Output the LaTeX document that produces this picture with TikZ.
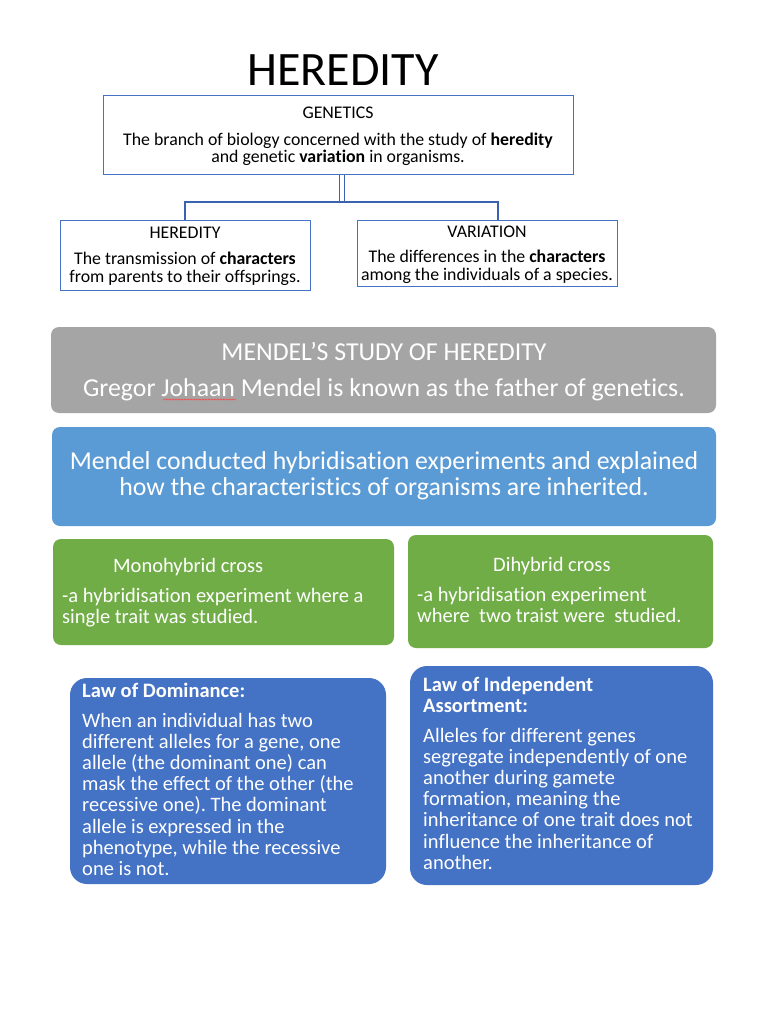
\documentclass[tikz,border=0pt]{standalone}
\usepackage{fontspec}
\setmainfont{Carlito}[Ligatures=NoCommon]
\usetikzlibrary{decorations.pathmorphing}

\definecolor{boxline}{HTML}{4472C4}
\definecolor{linkline}{HTML}{3B62AE}
\definecolor{greypanel}{HTML}{A5A5A5}
\definecolor{skypanel}{HTML}{5B9BD5}
\definecolor{greenpanel}{HTML}{70AD47}
\definecolor{lawpanel}{HTML}{4472C4}

\begin{document}
\frenchspacing
\begin{tikzpicture}[
    x=1pt, y=-1pt,
    plainbox/.style={draw=boxline,line width=1pt,fill=white,inner sep=0pt},
    panel/.style={fill=#1,rounded corners=8pt,inner sep=0pt},
    lawbox/.style={fill=lawpanel,rounded corners=17pt,inner sep=0pt},
    link/.style={draw=linkline,line width=1.1pt},
    txt/.style={inner sep=0pt,anchor=base},
    txtl/.style={inner sep=0pt,anchor=base west},
    smalltxt/.style={font=\fontsize{17.8}{20}\selectfont},
    paneltxt/.style={text=white,font=\fontsize{25.8}{28}\selectfont},
    greentxt/.style={text=white,font=\fontsize{20.5}{22}\selectfont},
    lawtxt/.style={text=white,font=\fontsize{20.5}{22}\selectfont},
    lawhead/.style={text=white,font=\fontsize{20.5}{22}\selectfont\bfseries}]

  \useasboundingbox[fill=white] (0,0) rectangle (768,1024);

  % ---- title --------------------------------------------------------------
  \node[txt,font=\fontsize{48}{50}\selectfont] (title) at (343,86) {HEREDITY};

  % ---- the three framed boxes ---------------------------------------------
  \node[plainbox,minimum width=470pt,minimum height=79pt] (genetics)  at (338,135.5) {};
  \node[plainbox,minimum width=250pt,minimum height=69pt] (heredity)  at (185,255.5) {};
  \node[plainbox,minimum width=260pt,minimum height=65pt] (variation) at (487,253.5) {};

  \node[txt,smalltxt] (genT) at (338,119) {GENETICS};
  \node[txt,smalltxt] (genA) at (338,145.5) {The branch of biology concerned with the study of \textbf{heredity}};
  \node[txt,smalltxt] (genB) at (338,163) {and genetic \textbf{variation} in organisms.};

  \node[txt,smalltxt] (herT) at (185,238.5) {HEREDITY};
  \node[txt,smalltxt] (herA) at (185,264.5) {The transmission of \textbf{characters}};
  \node[txt,smalltxt] (herB) at (185,282.5) {from parents to their offsprings.};

  \node[txt,smalltxt] (varT) at (487,237) {VARIATION};
  \node[txt,smalltxt] (varA) at (487,262.5) {The differences in the \textbf{characters}};
  \node[txt,smalltxt] (varB) at (487,280.5) {among the individuals of a species.};

  % ---- connectors ---------------------------------------------------------
  \coordinate (fork) at (341.5,202);
  \draw[link,line width=0.9pt] ([xshift=1pt]genetics.south) -- ++(0,27);
  \draw[link,line width=0.9pt] ([xshift=6pt]genetics.south) -- ++(0,27);
  \draw[link] (heredity.north) |- (fork) -| ([xshift=11pt]variation.north);

  % ---- Mendel panels ------------------------------------------------------
  \node[panel=greypanel,minimum width=665pt,minimum height=86pt] (mendel) at (383.5,370) {};
  \node[txt,paneltxt] (mendT) at (384,360) {MENDEL’S STUDY OF HEREDITY};
  \node[txt,paneltxt] (mendA) at (384,396) {Gregor Johaan Mendel is known as the father of genetics.};
  \draw[red!75,line width=0.5pt,decorate,decoration={snake,amplitude=0.6pt,segment length=3pt}]
    (163,399.5) -- (236,399.5);

  \node[panel=skypanel,minimum width=664pt,minimum height=99pt] (hybrid) at (384,476.5) {};
  \node[txt,paneltxt] (hybA) at (384,469.5) {Mendel conducted hybridisation experiments and explained};
  \node[txt,paneltxt] (hybB) at (384,495.5) {how the characteristics of organisms are inherited.};

  % ---- the two crosses ----------------------------------------------------
  \node[panel=greenpanel,minimum width=341pt,minimum height=106pt] (mono) at (223.5,592) {};
  \node[panel=greenpanel,minimum width=305pt,minimum height=113pt] (di)   at (560.5,591.5) {};

  \node[txtl,greentxt] (monoT) at (113,572.5) {Monohybrid cross};
  \node[txtl,greentxt] (monoA) at (62,602.5)  {-a hybridisation experiment where a};
  \node[txtl,greentxt] (monoB) at (62,623)  {single trait was studied.};

  \node[txtl,greentxt] (diT) at (493,571.5) {Dihybrid cross};
  \node[txtl,greentxt] (diA) at (417,601.5) {-a hybridisation experiment};
  \node[txtl,greentxt] (diB) at (417,622.5) {where~ two traist were~ studied.};

  % ---- the two laws -------------------------------------------------------
  \node[lawbox,minimum width=316pt,minimum height=206pt] (dominance)   at (228,781) {};
  \node[lawbox,minimum width=303pt,minimum height=219pt] (independent) at (561.5,775.5) {};

  \node[txtl,lawhead] (domT) at (82,697.5) {Law of Dominance:};
  \foreach \t [count=\i from 0] in {When an individual has two,
      {different alleles for a gene, one},
      allele (the dominant one) can,
      mask the effect of the other (the,
      recessive one). The dominant,
      allele is expressed in the,
      {phenotype, while the recessive},
      one is not.}
    \node[txtl,lawtxt] (dom\i) at (82,727.5+21.1*\i) {\t};

  \node[txtl,lawhead] (indT)  at (423,691.5) {Law of Independent};
  \node[txtl,lawhead] (indT2) at (423,712.5) {Assortment:};
  \foreach \t [count=\i from 0] in {Alleles for different genes,
      segregate independently of one,
      another during gamete,
      {formation, meaning the},
      inheritance of one trait does not,
      influence the inheritance of,
      another.}
    \node[txtl,lawtxt] (ind\i) at (423,742.5+21.1*\i) {\t};

\end{tikzpicture}
\end{document}
